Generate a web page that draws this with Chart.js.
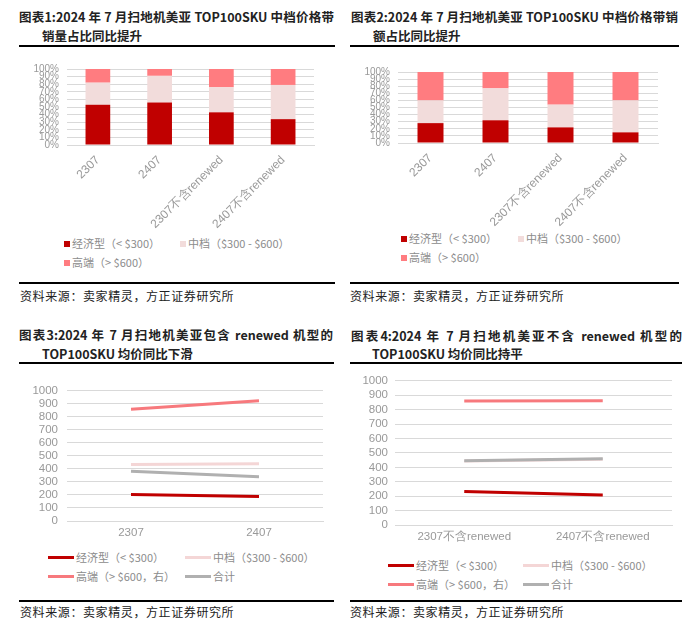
<!DOCTYPE html>
<html>
<head>
<meta charset="utf-8">
<script src="https://cdn.jsdelivr.net/npm/chart.js@4.4.1/dist/chart.umd.min.js"></script>
<style>
  body { margin: 0; width: 700px; height: 626px; position: relative; background: #fff; overflow: hidden;
         font-family: "Noto Sans CJK SC", sans-serif; }
  .t { position: absolute; font-weight: bold; font-size: 12.5px; color: #222; white-space: nowrap; line-height: 16px; }
  .j { text-align: justify; text-align-last: justify; }
  .rule { position: absolute; height: 2px; background: #000; }
  .src { position: absolute; font-size: 12px; letter-spacing: 0.6px; color: #222; line-height: 16px; }
  canvas { position: absolute; }
  .lg { position: absolute; display: grid; font-size: 11px; color: #8c8c8c; line-height: 19px; }
  .lg div { display: flex; align-items: center; white-space: nowrap; }
  .lg i { display: inline-block; margin-right: 2px; }
</style>
</head>
<body>

<div class="t j" style="left:19px;top:9px;width:315px">图表1:2024 年 7 月扫地机美亚 TOP100SKU 中档价格带</div>
<div class="t" style="left:42px;top:28px">销量占比同比提升</div>
<div class="rule" style="left:19px;top:45px;width:316px"></div>
<canvas id="c1" width="350" height="176" style="left:0;top:55px"></canvas>
<div id="lg1" class="lg" style="left:64px;top:234px;grid-template-columns:116px auto"></div>
<div class="rule" style="left:19px;top:282px;width:316px"></div>
<div class="src" style="left:20px;top:288px">资料来源：卖家精灵，方正证券研究所</div>

<div class="t j" style="left:351px;top:9px;width:327px">图表2:2024 年 7 月扫地机美亚 TOP100SKU 中档价格带销</div>
<div class="t" style="left:373px;top:28px">额占比同比提升</div>
<div class="rule" style="left:350px;top:45px;width:329px"></div>
<canvas id="c2" width="350" height="170" style="left:350px;top:58px"></canvas>
<div id="lg2" class="lg" style="left:401px;top:229px;grid-template-columns:117px auto"></div>
<div class="rule" style="left:350px;top:282px;width:329px"></div>
<div class="src" style="left:350px;top:288px">资料来源：卖家精灵，方正证券研究所</div>

<div class="t j" style="left:19px;top:327px;width:314px">图表3:2024 年 7 月扫地机美亚包含 renewed 机型的</div>
<div class="t" style="left:42px;top:346px">TOP100SKU 均价同比下滑</div>
<div class="rule" style="left:19px;top:362px;width:315px"></div>
<canvas id="c3" width="350" height="172" style="left:0;top:375px"></canvas>
<div id="lg3" class="lg" style="left:48px;top:548px;grid-template-columns:137px auto"></div>
<div class="rule" style="left:19px;top:600px;width:315px"></div>
<div class="src" style="left:20px;top:604px">资料来源：卖家精灵，方正证券研究所</div>

<div class="t j" style="left:351px;top:328px;width:331px">图表4:2024 年 7 月扫地机美亚不含 renewed 机型的</div>
<div class="t" style="left:372px;top:346px">TOP100SKU 均价同比持平</div>
<div class="rule" style="left:350px;top:362px;width:332px"></div>
<canvas id="c4" width="350" height="184" style="left:350px;top:367px"></canvas>
<div id="lg4" class="lg" style="left:388px;top:556px;grid-template-columns:135px auto"></div>
<div class="rule" style="left:350px;top:600px;width:332px"></div>
<div class="src" style="left:350px;top:604px">资料来源：卖家精灵，方正证券研究所</div>

<script>
// categories
const barCats = ['2307', '2407', '2307不含renewed', '2407不含renewed'];
const lineCats3 = ['2307', '2407'];
const lineCats4 = ['2307不含renewed', '2407不含renewed'];

// series names
const barNames = ['经济型（< $300）', '中档（$300 - $600）', '高端（> $600）'];
const lineNames = ['经济型（< $300）', '中档（$300 - $600）', '高端（> $600，右）', '合计'];

// 图表1 销量占比 (%)
const volEcon = [53, 56, 43, 34];
const volMid  = [29, 35, 33, 45];
const volHigh = [18, 9, 24, 21];

// 图表2 销额占比 (%)
const amtEcon = [28, 32, 22, 15];
const amtMid  = [32, 45, 32, 45];
const amtHigh = [40, 23, 46, 40];

// 图表3 均价 含renewed
const p3Econ  = [203, 188];
const p3Mid   = [434, 441];
const p3High  = [859, 925];
const p3Total = [383, 341];

// 图表4 均价 不含renewed
const p4Econ  = [233, 208];
const p4Mid   = [444, 457];
const p4High  = [860, 862];
const p4Total = [446, 459];

const barColors = ['#C00000', '#F2DCDB', '#FF7C80'];
const lineColors = ['#C00000', '#F4D6D6', '#F7797D', '#B0B0B0'];
const gridColor = '#D9D9D9';
const tickColor = '#999';

function legend(id, names, colors, isLine) {
  const el = document.getElementById(id);
  names.forEach((n, i) => {
    const d = document.createElement('div');
    const m = document.createElement('i');
    if (isLine) { m.style.width = '26px'; m.style.height = '3px'; }
    else { m.style.width = '6px'; m.style.height = '6px'; }
    m.style.background = colors[i];
    d.appendChild(m);
    d.appendChild(document.createTextNode(n));
    el.appendChild(d);
  });
}

function stackChart(id, series, pad, yW, xH) {
  new Chart(document.getElementById(id), {
    type: 'bar',
    data: {
      labels: barCats,
      datasets: series.map((s, i) => ({
        label: barNames[i], data: s, backgroundColor: barColors[i], borderWidth: 0,
        categoryPercentage: 1, barPercentage: 0.4
      }))
    },
    options: {
      responsive: false, animation: false, devicePixelRatio: 1,
      layout: { padding: pad },
      plugins: { legend: { display: false }, tooltip: { enabled: false } },
      scales: {
        x: {
          stacked: true,
          grid: { display: false, drawTicks: false },
          border: { color: gridColor },
          afterFit: s => { s.height = xH; },
          ticks: { color: tickColor, font: { family: 'Liberation Sans', size: 12 }, minRotation: 45, maxRotation: 45, padding: 8 }
        },
        y: {
          stacked: true, min: 0, max: 100,
          grid: { color: gridColor, drawTicks: false },
          border: { display: false },
          afterFit: s => { s.width = yW; },
          ticks: { stepSize: 10, autoSkip: false, color: tickColor, padding: 8,
                   font: { family: 'Liberation Sans', size: 10 }, callback: v => v + '%' }
        }
      }
    }
  });
}

function lineChart(id, cats, series, pad, yW, xH, yPad) {
  // 合计 first so it is drawn on top
  const order = [3, 0, 2, 1];
  new Chart(document.getElementById(id), {
    type: 'line',
    data: {
      labels: cats,
      datasets: order.map(i => ({
        label: lineNames[i], data: series[i], borderColor: lineColors[i], backgroundColor: lineColors[i],
        borderWidth: 3, pointRadius: 0, tension: 0
      }))
    },
    options: {
      responsive: false, animation: false, devicePixelRatio: 1,
      layout: { padding: pad },
      plugins: { legend: { display: false }, tooltip: { enabled: false } },
      scales: {
        x: {
          offset: true,
          grid: { display: false, drawTicks: false },
          border: { color: gridColor },
          afterFit: s => { s.height = xH; },
          ticks: { color: tickColor, font: { family: 'Liberation Sans', size: 11.5 }, padding: 5 }
        },
        y: {
          min: 0, max: 1000,
          grid: { color: gridColor, drawTicks: false },
          border: { display: false },
          afterFit: s => { s.width = yW; },
          ticks: { stepSize: 100, autoSkip: false, color: tickColor, padding: yPad,
                   font: { family: 'Liberation Sans', size: 11.5 }, callback: v => String(v) }
        }
      }
    }
  });
}

stackChart('c1', [volEcon, volMid, volHigh], { left: 30, right: 36, top: 12, bottom: 0 }, 37, 86);
stackChart('c2', [amtEcon, amtMid, amtHigh], { left: 15, right: 42, top: 13, bottom: 0 }, 33, 85);
lineChart('c3', lineCats3, [p3Econ, p3Mid, p3High, p3Total], { left: 20, right: 27, top: 13, bottom: 0 }, 47, 26, 9);
lineChart('c4', lineCats4, [p4Econ, p4Mid, p4High, p4Total], { left: 10, right: 28, top: 12, bottom: 0 }, 35, 26, 7);

legend('lg1', barNames, barColors, false);
legend('lg2', barNames, barColors, false);
legend('lg3', lineNames, lineColors, true);
legend('lg4', lineNames, lineColors, true);
</script>
</body>
</html>
